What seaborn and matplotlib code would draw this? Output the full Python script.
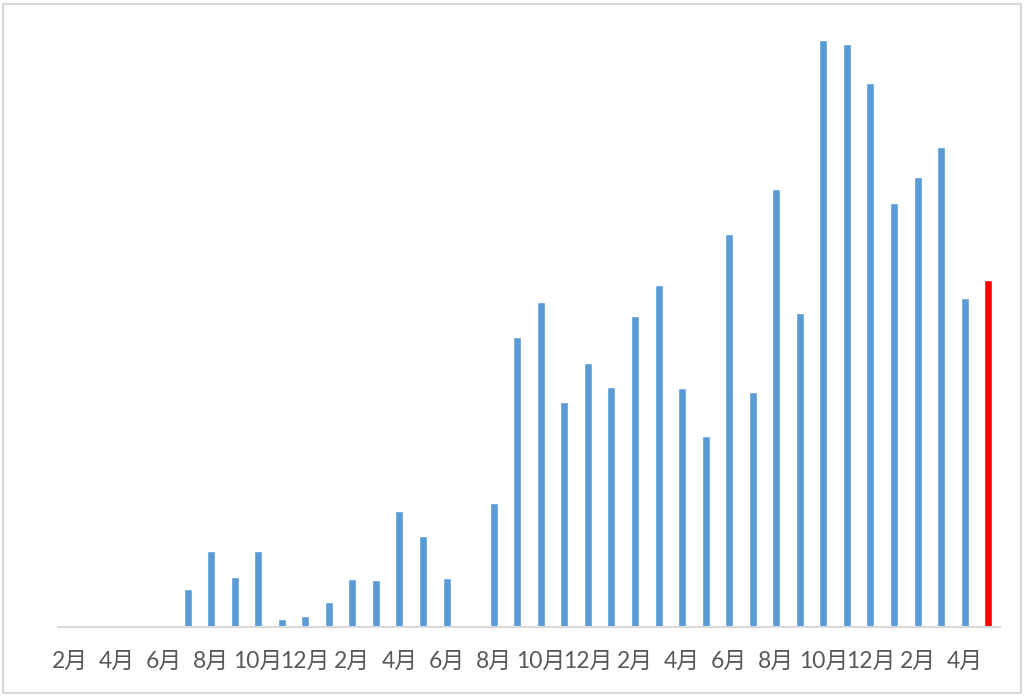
import pandas as pd
import seaborn as sns
import matplotlib.pyplot as plt
from matplotlib.patches import Rectangle

# Monthly values, Feb (year 1) through May (year 4); last month is highlighted
months = ['2月', '3月', '4月', '5月', '6月', '7月', '8月', '9月', '10月', '11月', '12月', '1月',
          '2月', '3月', '4月', '5月', '6月', '7月', '8月', '9月', '10月', '11月', '12月', '1月',
          '2月', '3月', '4月', '5月', '6月', '7月', '8月', '9月', '10月', '11月', '12月', '1月',
          '2月', '3月', '4月', '5月']
values = [0, 0, 0, 0, 0, 38, 76, 50, 76, 8, 11, 25,
          48, 47, 116, 91, 49, 0, 124, 289, 324, 224, 263, 239,
          310, 341, 238, 190, 392, 234, 437, 313, 585, 581, 542, 423,
          449, 478, 328, 346]
highlight = ['normal'] * 39 + ['latest']
tick_labels = ['2月', '4月', '6月', '8月', '10月', '12月', '2月', '4月', '6月', '8月',
               '10月', '12月', '2月', '4月', '6月', '8月', '10月', '12月', '2月', '4月']

df = pd.DataFrame({'pos': range(len(values)), 'value': values, 'kind': highlight})

sns.set_style('white')
plt.rcParams['font.family'] = ['Lato', 'Noto Sans CJK JP', 'DejaVu Sans']

fig = plt.figure(figsize=(10.24, 6.97), dpi=100)
ax = fig.add_axes([58 / 1024, 1 - 627 / 697, 942 / 1024, 612 / 697])

sns.barplot(
    data=df, x='pos', y='value', hue='kind',
    palette={'normal': '#5b9bd5', 'latest': '#ff0000'},
    width=0.34, dodge=False, legend=False, saturation=1, ax=ax
)

ax.set_xlim(-0.5, len(values) - 0.5)
ax.set_ylim(0, 610)
ax.set_xticks(range(0, len(values), 2))
ax.set_xticklabels(tick_labels, fontsize=16.5, color='#595959')
ax.tick_params(axis='x', length=0, pad=17)
ax.set_yticks([])
ax.set_xlabel('')
ax.set_ylabel('')
for side in ['top', 'left', 'right']:
    ax.spines[side].set_visible(False)
ax.spines['bottom'].set_color('#d9d9d9')
ax.spines['bottom'].set_linewidth(1.5)

# light grey frame round the whole chart
fig.patches.append(Rectangle((3 / 1024, 4 / 697), 1018 / 1024, 689 / 697,
                             transform=fig.transFigure, fill=False,
                             edgecolor='#d9d9d9', linewidth=1.5))

fig.savefig('out.png', dpi=100)
